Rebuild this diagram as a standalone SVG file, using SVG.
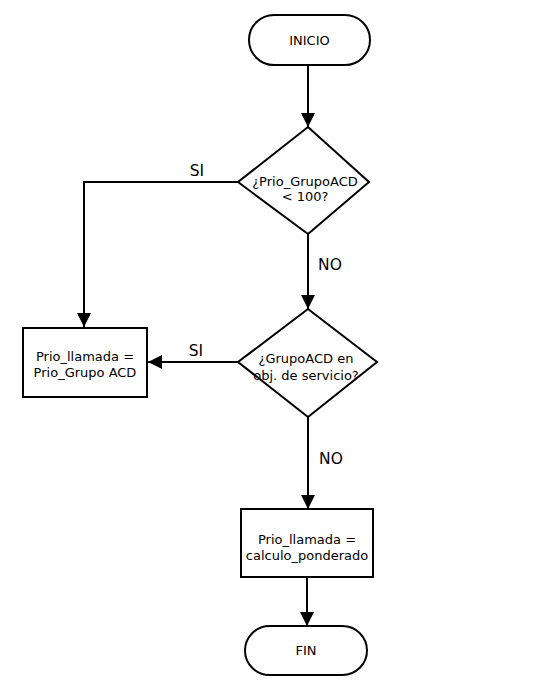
<svg xmlns="http://www.w3.org/2000/svg" width="534" height="689" viewBox="0 0 534 689">
<style>
.s{fill:#fff;stroke:#000;stroke-width:2}
.c{fill:none;stroke:#000;stroke-width:2}
.t{font-family:"DejaVu Sans",sans-serif;font-size:13px;fill:#000;text-anchor:middle}
.l{font-family:"DejaVu Sans",sans-serif;font-size:15.5px;fill:#000;text-anchor:middle}
</style>
<defs>
<marker id="a" viewBox="0 0 14 14" refX="14" refY="7" markerWidth="14" markerHeight="14" markerUnits="userSpaceOnUse" orient="auto">
<path d="M0,0 L14,7 L0,14 Z" fill="#000"/>
</marker>
</defs>
<rect width="534" height="689" fill="#fff"/>
<g id="connectors">
<path class="c" d="M308,65 L308,127" marker-end="url(#a)"/>
<path class="c" d="M238,182 L84,182 L84,327" marker-end="url(#a)"/>
<path class="c" d="M308,234 L308,309" marker-end="url(#a)"/>
<path class="c" d="M238,362 L148,362" marker-end="url(#a)"/>
<path class="c" d="M308,417 L308,509" marker-end="url(#a)"/>
<path class="c" d="M307,577 L307,626" marker-end="url(#a)"/>
<text class="l" x="197" y="176">SI</text>
<text class="l" x="330" y="270">NO</text>
<text class="l" x="196" y="356">SI</text>
<text class="l" x="331" y="464">NO</text>
</g>
<g id="inicio">
<rect class="s" x="249" y="15" width="121" height="50" rx="25"/>
<text class="t" x="309.5" y="45">INICIO</text>
</g>
<g id="decision1">
<polygon class="s" points="308,127 369,182 308,234 238,182"/>
<text class="t" x="305" y="186">¿Prio_GrupoACD</text>
<text class="t" x="305" y="201">&lt; 100?</text>
</g>
<g id="proceso1">
<rect class="s" x="23" y="328" width="124" height="69"/>
<text class="t" x="85" y="361">Prio_llamada =</text>
<text class="t" x="85" y="377">Prio_Grupo ACD</text>
</g>
<g id="decision2">
<polygon class="s" points="308,309 377,362 308,417 238,362"/>
<text class="t" x="306" y="363">¿GrupoACD en</text>
<text class="t" x="306" y="380">obj. de servicio?</text>
</g>
<g id="proceso2">
<rect class="s" x="241" y="509" width="132" height="68"/>
<text class="t" x="307" y="544">Prio_llamada =</text>
<text class="t" x="307" y="560">calculo_ponderado</text>
</g>
<g id="fin">
<rect class="s" x="245" y="626" width="122" height="49" rx="24.5"/>
<text class="t" x="306" y="655">FIN</text>
</g>
</svg>
